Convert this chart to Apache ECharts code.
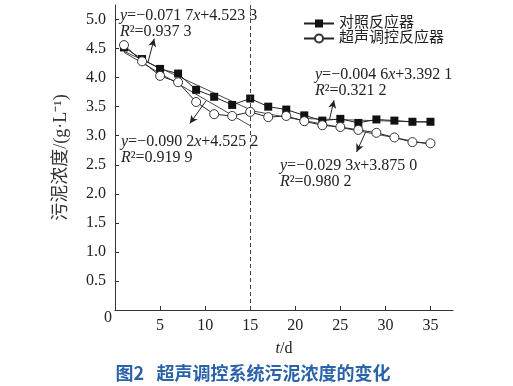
<!DOCTYPE html>
<html><head><meta charset="utf-8">
<script src="https://cdn.jsdelivr.net/npm/echarts@6/dist/echarts.min.js"></script>
<style>html,body{margin:0;padding:0;background:#fff}#c{width:513px;height:386px}</style>
</head><body><div id="c"></div>
<script>
const days = [1,3,5,7,9,11,13,15,17,19,21,23,25,27,29,31,33,35];
const control = [4.52,4.32,4.15,4.07,3.79,3.67,3.53,3.64,3.50,3.45,3.35,3.26,3.29,3.22,3.28,3.26,3.24,3.24];
const ultra = [4.56,4.28,4.03,3.92,3.58,3.37,3.34,3.41,3.32,3.34,3.25,3.18,3.15,3.10,3.05,2.97,2.89,2.87];
const xTicks = [5,10,15,20,25,30,35];
const yTicks = [0.5,1.0,1.5,2.0,2.5,3.0,3.5,4.0,4.5,5.0];
const fitControlEarly = [[1,4.452],[15,3.448]];
const fitUltraEarly = [[1,4.435],[15,3.172]];
const fitControlLate = [[21,3.295],[35,3.231]];
const fitUltraLate = [[15,3.435],[35,2.850]];
const seriesNames = ['对照反应器','超声调控反应器'];

const SERIF = "'Liberation Serif','Noto Sans CJK SC',serif";
const INK = '#222';
const chart = echarts.init(document.getElementById('c'));
const richBase = {
  i: {fontFamily: SERIF, fontSize: 16, fontStyle: 'italic', fill: INK, lineHeight: 16},
  n: {fontFamily: SERIF, fontSize: 16, fill: INK, lineHeight: 16}
};
function eqText(x, y, l1, l2) {
  return {type:'text', x:x, y:y, style:{text: l1 + '\n' + l2, rich: richBase, fontFamily: SERIF, fontSize:16, fill: INK, lineHeight:16, verticalAlign:'top'}};
}
function fitSeries(data, arrow) {
  return {type:'line', data:data, symbol:'none', silent:true, z:1,
    lineStyle:{color:'#333', width:0.9},
    markLine:{silent:true, symbol:['none','arrow'], symbolSize:[6,8], label:{show:false},
      lineStyle:{color:INK, width:1, type:'solid'}, data:[arrow]}};
}
const dataC = days.map((d,i)=>[d,control[i]]);
const dataU = days.map((d,i)=>[d,ultra[i]]);
chart.setOption({
  animation:false,
  grid:{left:115, right:60, top:5, bottom:76},
  legend:{orient:'vertical', left:298, top:11, itemGap:0, itemWidth:30, itemHeight:10,
    textStyle:{fontFamily:SERIF, fontSize:15, color:INK, lineHeight:14},
    data: seriesNames},
  xAxis:{type:'value', min:0, max:37.5, name:'{i|t}/d', nameLocation:'middle', nameGap:31,
    nameTextStyle:{fontFamily:SERIF, fontSize:16, color:INK, rich:{i:{fontFamily:SERIF,fontSize:16,fontStyle:'italic',color:INK}}},
    axisLine:{lineStyle:{color:'#333', width:1}},
    axisTick:{inside:true, length:4, customValues:xTicks, lineStyle:{color:'#333'}},
    axisLabel:{customValues:xTicks, fontFamily:SERIF, fontSize:16, color:INK, margin:8},
    splitLine:{show:false}},
  yAxis:{type:'value', min:0, max:5.25, name:'污泥浓度/(g·L⁻¹)', nameLocation:'middle', nameGap:45,
    nameTextStyle:{fontFamily:SERIF, fontSize:18, color:'#333'},
    axisLine:{show:true, lineStyle:{color:'#333', width:1}},
    axisTick:{show:true, inside:true, length:4, customValues:yTicks, lineStyle:{color:'#333'}},
    axisLabel:{customValues:yTicks, fontFamily:SERIF, fontSize:16, color:INK, margin:9, formatter:v=>v.toFixed(1)},
    splitLine:{show:false}},
  graphic:[
    {type:'text', x:108, y:318, style:{text:'0', fontFamily:SERIF, fontSize:16, fill:INK, align:'center', verticalAlign:'middle'}},
    eqText(120, 8, '{i|y}{n|=−0.071 7}{i|x}{n|+4.523 3}', '{i|R}{n|²=0.937 3}'),
    eqText(121, 134, '{i|y}{n|=−0.090 2}{i|x}{n|+4.525 2}', '{i|R}{n|²=0.919 9}'),
    eqText(315, 67, '{i|y}{n|=−0.004 6}{i|x}{n|+3.392 1}', '{i|R}{n|²=0.321 2}'),
    eqText(280, 158, '{i|y}{n|=−0.029 3}{i|x}{n|+3.875 0}', '{i|R}{n|²=0.980 2}'),
    {type:'text', x:253, y:373, style:{text:'图2   超声调控系统污泥浓度的变化', fontFamily:"'Noto Sans CJK SC',sans-serif", fontWeight:'bold', fontSize:18, fill:'#2a63a9', align:'center', verticalAlign:'middle'}}
  ],
  series:[
    fitSeries(fitControlEarly, [{coord:[3.65,4.26]},{coord:[4.35,4.67]}]),
    fitSeries(fitUltraEarly, [{coord:[10.1,3.60]},{coord:[8.3,3.21]}]),
    fitSeries(fitControlLate, [{coord:[23.8,3.28]},{coord:[24.3,3.61]}]),
    fitSeries(fitUltraLate, [{coord:[27.8,3.06]},{coord:[26.8,2.72]}]),
    {type:'line', name:seriesNames[0], data:dataC, symbol:'rect', symbolSize:8, z:3,
      lineStyle:{color:INK, width:1}, itemStyle:{color:'#111', borderColor:'#111', borderWidth:0},
      markLine:{silent:true, symbol:'none', label:{show:false}, lineStyle:{color:'#444', type:[4,3], width:1}, data:[{xAxis:15}]}},
    {type:'line', name:seriesNames[1], data:dataU, symbol:'circle', symbolSize:9, z:4,
      lineStyle:{color:INK, width:1}, itemStyle:{color:'#fff', borderColor:'#333', borderWidth:1}}
  ]
});
</script></body></html>
